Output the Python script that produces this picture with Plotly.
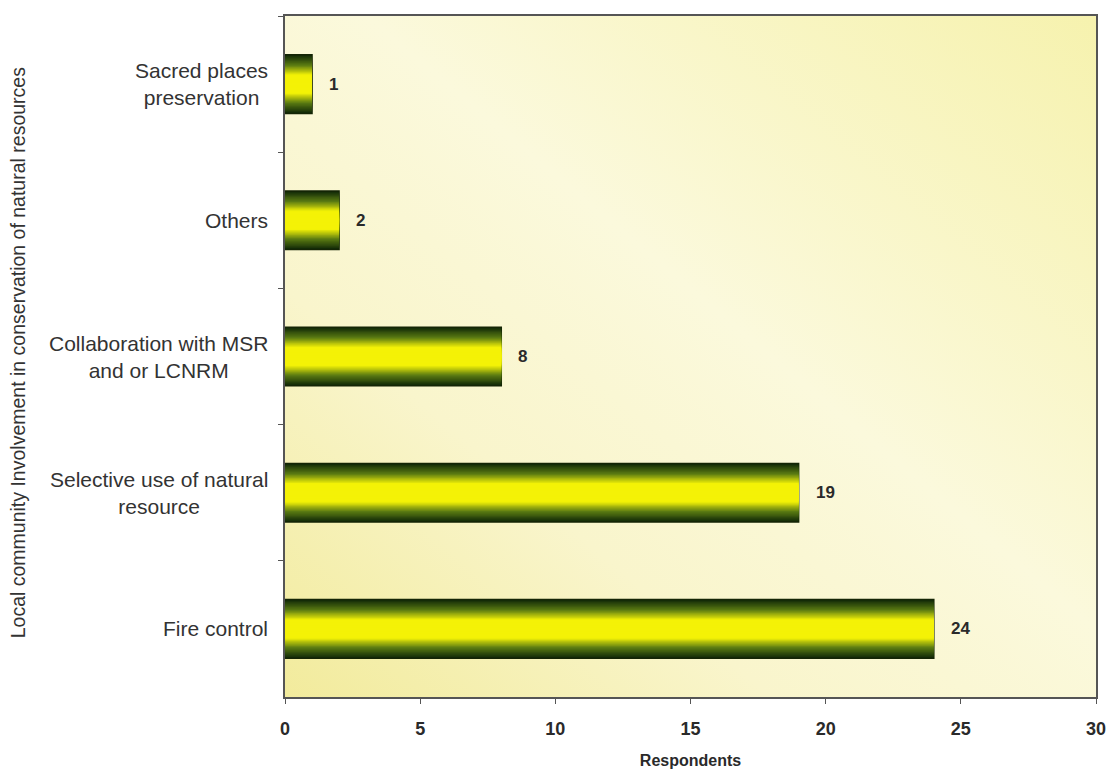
import plotly.graph_objects as go
import urllib.parse

# ---- data ----
categories = [
    "Sacred places<br>preservation",
    "Others",
    "Collaboration with MSR<br>and or LCNRM",
    "Selective use of natural<br>resource",
    "Fire control",
]
values = [1, 2, 8, 19, 24]
x_ticks = [0, 5, 10, 15, 20, 25, 30]
x_title = "Respondents"
y_title = "Local community Involvement in conservation of natural resources"

# ---- style ----
FONT = "Liberation Sans, Arial, sans-serif"
BAR_W = 0.43
N_LAYERS = 24
dark = (18, 42, 8)
green = (90, 122, 18)
yellow = (244, 242, 6)


def lerp(a, b, t):
    return tuple(int(round(a[i] + (b[i] - a[i]) * t)) for i in range(3))


def ramp(t):
    if t < 0.35:
        return lerp(dark, green, t / 0.35)
    return lerp(green, yellow, min(1.0, (t - 0.35) / 0.35))


fig = go.Figure()
for i in range(N_LAYERS):
    t = i / (N_LAYERS - 1)
    col = ramp(t)
    w = BAR_W * (1 - i / N_LAYERS)
    fig.add_trace(go.Bar(
        x=values, y=categories, orientation="h",
        width=[w] * len(values),
        marker=dict(color="rgb(%d,%d,%d)" % col,
                    line=dict(color="#142505" if i == 0 else "rgba(0,0,0,0)",
                              width=1.5 if i == 0 else 0)),
        hoverinfo="skip" if i else "x+y",
        showlegend=False,
    ))

annotations = []
for c, v in zip(categories, values):
    annotations.append(dict(
        x=v, y=c, xref="x", yref="y", text="<b>%d</b>" % v,
        showarrow=False, xanchor="left", xshift=15,
        font=dict(family=FONT, size=17, color="#2a2a2a"),
    ))
    annotations.append(dict(
        x=-0.018, y=c, xref="paper", yref="y", text=c,
        showarrow=False, xanchor="right", align="center",
        font=dict(family=FONT, size=21, color="#333333"),
    ))
annotations.append(dict(
    x=-0.329, y=0.505, xref="paper", yref="paper", text=y_title,
    textangle=-90, showarrow=False, xanchor="center", yanchor="middle",
    font=dict(family=FONT, size=19.5, color="#333333"),
))

svg = (
    "<svg xmlns='http://www.w3.org/2000/svg' viewBox='0 0 100 100' preserveAspectRatio='none'>"
    "<defs><linearGradient id='g' x1='0' y1='1' x2='1' y2='0'>"
    "<stop offset='0' stop-color='#f2eb9c'/>"
    "<stop offset='0.3' stop-color='#f9f5cc'/>"
    "<stop offset='0.55' stop-color='#fbf9dc'/>"
    "<stop offset='1' stop-color='#f6f2ae'/>"
    "</linearGradient></defs>"
    "<rect width='100' height='100' fill='url(#g)'/></svg>"
)
src = "data:image/svg+xml;charset=utf-8," + urllib.parse.quote(svg)

fig.update_layout(
    width=1107, height=772,
    margin=dict(l=277, r=19, t=6, b=83),
    barmode="overlay",
    paper_bgcolor="white",
    plot_bgcolor="rgba(0,0,0,0)",
    font=dict(family=FONT, color="#333"),
    annotations=annotations,
    images=[dict(source=src, xref="paper", yref="paper", x=0, y=1,
                 sizex=1, sizey=1, sizing="stretch", layer="below",
                 xanchor="left", yanchor="top")],
    xaxis=dict(
        range=[0, 30], tickvals=x_ticks, ticks="outside", ticklen=5,
        tickcolor="#555", showline=True, linecolor="#555", linewidth=1.5,
        mirror=True, showgrid=False, zeroline=False, ticklabelstandoff=10,
        tickfont=dict(family=FONT, size=18, color="#2a2a2a", weight="bold"),
        title=dict(text="<b>" + x_title + "</b>", standoff=16,
                   font=dict(family=FONT, size=16, color="#2a2a2a")),
    ),
    yaxis=dict(
        type="category", range=[4.5, -0.5], showticklabels=False,
        ticks="outside", tickson="boundaries", ticklen=5, tickcolor="#555",
        showline=True, linecolor="#555", linewidth=1.5, mirror=True,
        showgrid=False, zeroline=False,
    ),
)

fig.write_html("out.html")
